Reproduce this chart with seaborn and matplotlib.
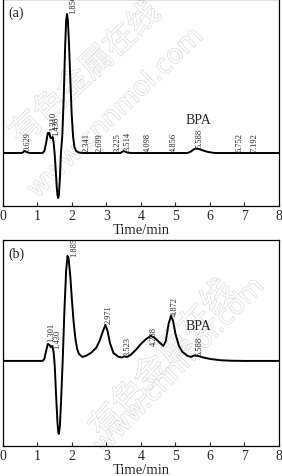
import matplotlib
matplotlib.use("Agg")
import matplotlib.pyplot as plt
import matplotlib.patheffects as pe
import seaborn as sns
import numpy as np

# chromatogram (a): retention time (min) and detector signal (arbitrary units)
time_a = [0.0, 0.55, 0.63, 0.72, 0.8, 1.15, 1.2, 1.25, 1.3, 1.34, 1.38, 1.41, 1.44, 1.47,
          1.5, 1.53, 1.56, 1.58, 1.6, 1.62, 1.65, 1.68, 1.72, 1.76, 1.8, 1.83, 1.856,
          1.88, 1.91, 1.95, 1.99, 2.03, 2.07, 2.12, 2.2, 2.3, 3.4, 3.5, 3.6, 3.7,
          5.35, 5.45, 5.52, 5.6, 5.7, 5.8, 5.95, 6.1, 6.2, 8.0]
signal_a = [0, 0, 2, 0.5, 0, 0, 2, 10, 20, 20, 15, 15, 16, 10,
            -2, -18, -35, -42, -45, -42, -25, 0, 18, 55, 105, 132, 139,
            133, 112, 75, 40, 17, 6, 2, 0.5, 0, 0, 2, 0.5, 0,
            0, 1.5, 3.5, 4.5, 3.8, 2.5, 1, 0.2, 0, 0]

# chromatogram (b)
time_b = [0.0, 1.15, 1.2, 1.25, 1.3, 1.35, 1.38, 1.43, 1.47, 1.5, 1.54, 1.58, 1.6, 1.62,
          1.65, 1.69, 1.73, 1.78, 1.83, 1.87, 1.9, 1.95, 2.0, 2.05, 2.1, 2.15, 2.2,
          2.3, 2.4, 2.55, 2.7, 2.8, 2.9, 2.97, 3.03, 3.1, 3.2, 3.35, 3.45, 3.52, 3.6,
          3.7, 3.85, 4.0, 4.15, 4.29, 4.4, 4.55, 4.65, 4.72, 4.8, 4.87, 4.93, 5.0,
          5.1, 5.2, 5.35, 5.45, 5.55, 5.65, 5.8, 6.0, 6.3, 6.6, 7.0, 8.0]
signal_b = [0, 0, 2, 10, 17, 16, 14, 15, 8, -5, -35, -62, -71, -73,
            -65, -35, 0, 50, 90, 105, 103, 85, 60, 38, 22, 12, 7,
            4, 5, 8, 13, 20, 30, 36, 30, 18, 8, 4, 3.5, 4.5, 4,
            6, 11, 17, 22, 25, 23, 18, 15, 20, 37, 45, 40, 27,
            15, 9, 5, 4, 5.5, 5, 3.5, 2, 0.7, 0.2, 0, 0]

# peak labels: retention time and label anchor height
peaks_a = ["0.629", "1.310", "1.436", "1.856", "2.341", "2.699", "3.225", "3.514",
           "4.098", "4.856", "5.588", "6.752", "7.192"]
peak_h_a = [2, 22, 17, 139, 1, 1, 1, 2, 1, 1, 5, 1, 1]
peaks_b = ["1.301", "1.430", "1.885", "2.971", "3.523", "4.288", "4.872", "5.588"]
peak_h_b = [19, 12, 104, 37, 5, 15, 45, 5]

xticks = [0, 1, 2, 3, 4, 5, 6, 7, 8]

sns.set_style("white")
plt.rcParams["font.family"] = ["Liberation Serif", "DejaVu Serif"]

fig = plt.figure(figsize=(2.82, 4.77), dpi=100)
ax1 = fig.add_axes([0.0106, 0.566, 0.9787, 0.434])
ax2 = fig.add_axes([0.0106, 0.063, 0.9787, 0.432])

panels = [
    (ax1, time_a, signal_a, peaks_a, peak_h_a, (-53, 154), "(a)", (5.65, 34)),
    (ax2, time_b, signal_b, peaks_b, peak_h_b, (-85, 121), "(b)", (5.65, 35)),
]

for ax, t, s, labels, hs, ylim, tag, bpa in panels:
    sns.lineplot(x=t, y=s, ax=ax, color="black", linewidth=1.4, estimator=None, sort=False)
    ax.set_xlim(0, 8)
    ax.set_ylim(*ylim)
    ax.set_xticks(xticks)
    ax.set_xticklabels([str(v) for v in xticks], fontsize=10)
    ax.set_yticks([])
    ax.tick_params(axis="x", direction="in", length=3, width=0.8, bottom=True, pad=2)
    for sp in ax.spines.values():
        sp.set_visible(True)
        sp.set_color("black")
        sp.set_linewidth(0.9)
    ax.set_xlabel("Time/min", fontsize=10.5, labelpad=1)
    for i, (lab, h) in enumerate(zip(labels, hs)):
        x = float(lab) - 0.02
        if h > 100:          # main peak label sits beside the apex
            x = float(lab) + 0.06
        elif i == 1:         # second label of the close doublet
            x = float(lab) + 0.03
        ax.text(x, h + 1, lab, rotation=90, ha="left", va="bottom",
                fontsize=6, clip_on=False)
    ax.text(bpa[0], bpa[1], "BPA", ha="center", va="center", fontsize=10)
    ax.text(0.02, 0.97, tag, transform=ax.transAxes, ha="left", va="top", fontsize=10)

# faint watermark
wm = dict(color="white", alpha=0.9, zorder=0.5, clip_on=False,
          path_effects=[pe.withStroke(linewidth=0.8, foreground="#d2d2d2")])
ax1.text(0.30, 0.64, "有色金属在线", transform=ax1.transAxes, rotation=43, ha="center",
         va="center", fontsize=23, family=["Noto Sans CJK SC", "DejaVu Sans"], **wm)
ax1.text(0.41, 0.45, "www.cnnmol.com", transform=ax1.transAxes, rotation=44, ha="center",
         va="center", fontsize=19, family=["DejaVu Sans"], **wm)
ax2.text(0.58, 0.42, "有色金属在线", transform=ax2.transAxes, rotation=48, ha="center",
         va="center", fontsize=24, family=["Noto Sans CJK SC", "DejaVu Sans"], **wm)
ax2.text(0.64, 0.39, "www.cnnmol.com", transform=ax2.transAxes, rotation=46, ha="center",
         va="center", fontsize=19, family=["DejaVu Sans"], **wm)

fig.savefig("out.png", dpi=100)
